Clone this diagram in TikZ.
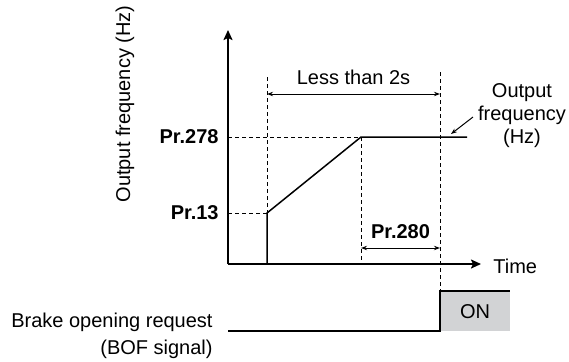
\documentclass[tikz,border=0pt]{standalone}
\usepackage{fontspec}
\setmainfont{Liberation Sans}
\usetikzlibrary{positioning}
\usetikzlibrary{arrows.meta}
\definecolor{ongray}{RGB}{210,211,213}

\begin{document}
\begin{tikzpicture}[x=0.5pt, y=-0.5pt, font=\fontsize{10}{11.5}\selectfont,
    every node/.style={inner sep=0pt, align=center},
    axis/.style={line width=0.9pt, -{Stealth[length=5pt, width=4.5pt, inset=1pt]}},
    guide/.style={line width=0.5pt, dash pattern=on 2pt off 1.5pt},
    dim/.style={line width=0.5pt, {Stealth[length=3pt, width=2.2pt]}-{Stealth[length=3pt, width=2.2pt]}},
    curve/.style={line width=0.75pt}]
    \useasboundingbox (0,0) rectangle (569,361);

    % axes
    \coordinate (o) at (228,264);
    \coordinate (ytop) at (228,30);
    \coordinate (xend) at (481,264);
    \draw[axis] (o) -- (ytop);
    \draw[axis] (o) -- (xend);
    \node (ylabel) at (125,104) [rotate=90] {Output frequency (Hz)};
    \node (time) at (493,266) [anchor=west] {Time};

    % output frequency
    \coordinate (start) at (267,264);
    \coordinate (low) at (267,213);
    \coordinate (high) at (361,137);
    \coordinate (stop) at (467,137);
    \draw[curve] (start) -- (low) -- (high) -- (stop);
    \node (pr278) at (219,137) [anchor=east, font=\fontsize{10}{11.5}\selectfont\bfseries] {Pr.278};
    \node (pr13) at (219,213) [anchor=east, font=\fontsize{10}{11.5}\selectfont\bfseries] {Pr.13};
    \draw[guide] (o |- low) -- (low);
    \draw[guide] (o |- high) -- (high);

    % time marks
    \coordinate (t1top) at (267,77);
    \coordinate (t2bot) at (361,264);
    \coordinate (t3top) at (440,72);
    \coordinate (t3bot) at (440,291);
    \draw[guide] (t1top) -- (start);
    \draw[guide] (high) -- (t2bot);
    \draw[guide] (t3top) -- (t3bot);

    \draw[dim] (267,94) -- node[above=4.5pt] (less) {Less than 2s} (440,94);
    \draw[dim] (361,248) -- node[above=4.5pt, font=\fontsize{10}{11.5}\selectfont\bfseries] (pr280) {Pr.280} (440,248);

    \node (outlabel) at (522,116) {Output\\frequency\\(Hz)};
    \coordinate (tip) at (451,134);
    \draw[line width=0.5pt, -{Stealth[length=3pt, width=2.2pt]}] (473,117) -- (tip);

    % BOF signal
    \coordinate (bofstart) at (228,331);
    \coordinate (bofrise) at (440,331);
    \coordinate (bofend) at (510,291);
    \fill[ongray] (t3bot) rectangle (bofend |- bofrise);
    \draw[curve] (bofstart) -- (bofrise) -- (t3bot) -- (bofend);
    \node (on) at (475,312) {ON};
    \node (bof) at (213,336) [anchor=east, align=right] {Brake opening request\\[2pt](BOF signal)};
\end{tikzpicture}
\end{document}
